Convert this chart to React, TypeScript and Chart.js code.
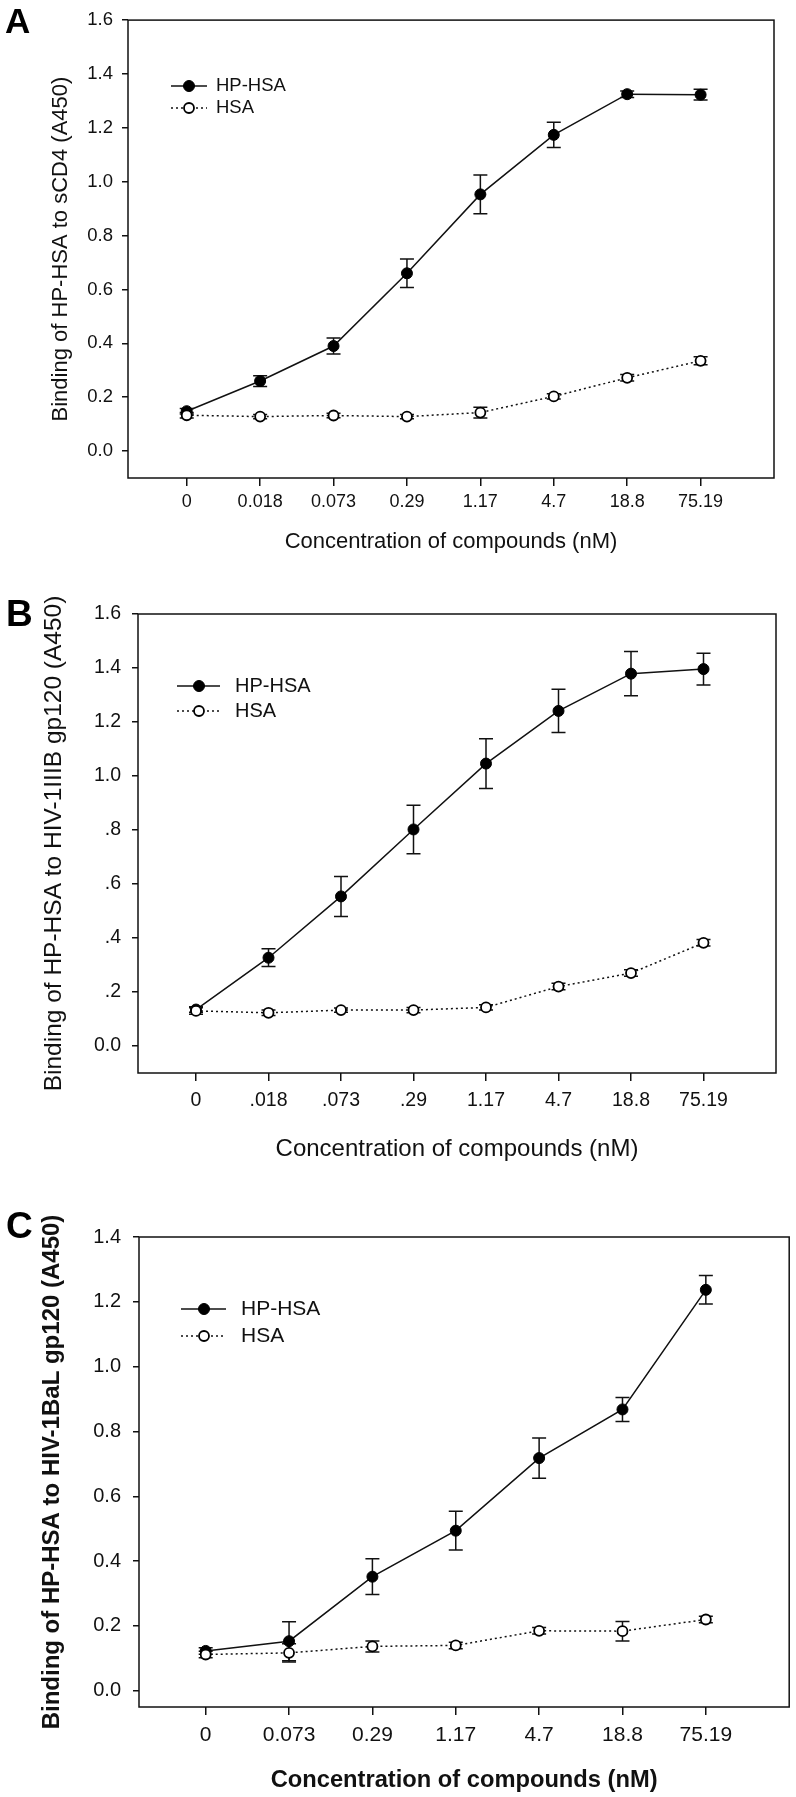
import React, { useEffect, useRef } from 'react';
import { Chart, registerables } from 'chart.js';

Chart.register(...registerables);

// ---------- DATA ----------
const catsA = ['0', '0.018', '0.073', '0.29', '1.17', '4.7', '18.8', '75.19'];
const hpA = [0.148, 0.26, 0.39, 0.66, 0.953, 1.174, 1.325, 1.323];
const hpErrA = [0.01, 0.02, 0.03, 0.053, 0.072, 0.047, 0.012, 0.02];
const hsaA = [0.133, 0.128, 0.132, 0.128, 0.143, 0.203, 0.272, 0.335];
const hsaErrA = [0.01, 0.008, 0.008, 0.008, 0.02, 0.01, 0.012, 0.015];
const yTicksA = [0, 0.2, 0.4, 0.6, 0.8, 1.0, 1.2, 1.4, 1.6];
const yLabelsA = ['0.0', '0.2', '0.4', '0.6', '0.8', '1.0', '1.2', '1.4', '1.6'];

const catsB = ['0', '.018', '.073', '.29', '1.17', '4.7', '18.8', '75.19'];
const hpB = [0.135, 0.327, 0.554, 0.802, 1.046, 1.241, 1.379, 1.396];
const hpErrB = [0.01, 0.033, 0.074, 0.09, 0.092, 0.08, 0.082, 0.059];
const hsaB = [0.13, 0.123, 0.133, 0.133, 0.143, 0.22, 0.27, 0.382];
const hsaErrB = [0.012, 0.01, 0.008, 0.01, 0.01, 0.012, 0.012, 0.012];
const yTicksB = [0, 0.2, 0.4, 0.6, 0.8, 1.0, 1.2, 1.4, 1.6];
const yLabelsB = ['0.0', '.2', '.4', '.6', '.8', '1.0', '1.2', '1.4', '1.6'];

const catsC = ['0', '0.073', '0.29', '1.17', '4.7', '18.8', '75.19'];
const hpC = [0.123, 0.153, 0.352, 0.494, 0.718, 0.868, 1.237];
const hpErrC = [0.01, 0.06, 0.055, 0.06, 0.062, 0.037, 0.044];
const hsaC = [0.112, 0.117, 0.137, 0.14, 0.185, 0.184, 0.22];
const hsaErrC = [0.01, 0.028, 0.017, 0.01, 0.01, 0.03, 0.01];
const yTicksC = [0, 0.2, 0.4, 0.6, 0.8, 1.0, 1.2, 1.4];
const yLabelsC = ['0.0', '0.2', '0.4', '0.6', '0.8', '1.0', '1.2', '1.4'];

const seriesNames = ['HP-HSA', 'HSA'];
const xTitleText = 'Concentration of compounds (nM)';

// ---------- STYLE / LAYOUT ----------
const FONT = "'Liberation Sans', Arial, Helvetica, sans-serif";
const INK = '#111';

type Panel = {
  letter: string;
  top: number;
  height: number;
  area: { left: number; right: number; top: number; bottom: number };
  yMin: number;
  yMax: number;
  xMax: number;
  cats: string[];
  hp: number[];
  hpErr: number[];
  hsa: number[];
  hsaErr: number[];
  yTicks: number[];
  yLabels: string[];
  yTitle: string;
  bold: boolean;
  xTickFont: number;
  yTickFont: number;
  xTitleFont: number;
  yTitleFont: number;
  yTitlePad: number;
  xTitlePad: number;
  xTickPad: number;
  yTickPad: number;
  legend: { x0: number; x1: number; mx: number; tx: number; rows: number[]; font: number };
  letterPos: { x: number; y: number; size: number };
};

const panels: Panel[] = [
  {
    letter: 'A', top: 0, height: 580,
    area: { left: 128, right: 774, top: 11, bottom: 478 },
    yMin: -0.1, yMax: 1.6, xMax: 8,
    cats: catsA, hp: hpA, hpErr: hpErrA, hsa: hsaA, hsaErr: hsaErrA,
    yTicks: yTicksA, yLabels: yLabelsA,
    yTitle: 'Binding of HP-HSA to sCD4 (A450)', bold: false,
    xTickFont: 18, yTickFont: 18.5, xTitleFont: 22, yTitleFont: 22,
    yTitlePad: 48, xTitlePad: 24.8, xTickPad: 5.2, yTickPad: 9,
    legend: { x0: 171, x1: 207, mx: 189, tx: 216, rows: [86, 108], font: 18.5 },
    letterPos: { x: 5, y: 33, size: 35 },
  },
  {
    letter: 'B', top: 580, height: 600,
    area: { left: 138, right: 776, top: 34, bottom: 493 },
    yMin: -0.1, yMax: 1.6, xMax: 8,
    cats: catsB, hp: hpB, hpErr: hpErrB, hsa: hsaB, hsaErr: hsaErrB,
    yTicks: yTicksB, yLabels: yLabelsB,
    yTitle: 'Binding of HP-HSA to HIV-1IIIB gp120 (A450)', bold: false,
    xTickFont: 19.5, yTickFont: 19.5, xTitleFont: 24, yTitleFont: 24.5,
    yTitlePad: 40, xTitlePad: 16.6, xTickPad: 8.3, yTickPad: 11,
    legend: { x0: 177, x1: 220, mx: 199, tx: 235, rows: [106, 131], font: 20 },
    letterPos: { x: 6, y: 46, size: 37 },
  },
  {
    letter: 'C', top: 1180, height: 617,
    area: { left: 139, right: 790, top: 57, bottom: 527 },
    yMin: -0.05, yMax: 1.4, xMax: 7,
    cats: catsC, hp: hpC, hpErr: hpErrC, hsa: hsaC, hsaErr: hsaErrC,
    yTicks: yTicksC, yLabels: yLabelsC,
    yTitle: 'Binding of HP-HSA to HIV-1BaL gp120 (A450)', bold: true,
    xTickFont: 21, yTickFont: 20, xTitleFont: 23.7, yTitleFont: 24,
    yTitlePad: 37.6, xTitlePad: 2.6, xTickPad: 8, yTickPad: 12,
    legend: { x0: 181, x1: 226, mx: 204, tx: 241, rows: [129, 156], font: 21 },
    letterPos: { x: 6, y: 58, size: 37 },
  },
];

const decorPlugin = {
  id: 'panelDecor',
  beforeDatasetsDraw(chart: any) {
    const ctx = chart.ctx;
    const { left, right, top, bottom } = chart.chartArea;
    ctx.save();
    ctx.strokeStyle = INK;
    ctx.lineWidth = 1.5;
    ctx.strokeRect(left, top, right - left, bottom - top);
    ctx.restore();

    const xs = chart.scales.x;
    const ys = chart.scales.y;
    const cap = 7;
    chart.data.datasets.forEach((ds: any) => {
      const errs: number[] = ds.errors || [];
      ctx.save();
      ctx.strokeStyle = INK;
      ctx.lineWidth = 1.5;
      ctx.setLineDash([]);
      ds.data.forEach((p: any, j: number) => {
        const e = errs[j];
        if (!e) return;
        const px = xs.getPixelForValue(p.x);
        const y1 = ys.getPixelForValue(p.y + e);
        const y2 = ys.getPixelForValue(p.y - e);
        ctx.beginPath();
        ctx.moveTo(px, y1);
        ctx.lineTo(px, y2);
        ctx.moveTo(px - cap, y1);
        ctx.lineTo(px + cap, y1);
        ctx.moveTo(px - cap, y2);
        ctx.lineTo(px + cap, y2);
        ctx.stroke();
      });
      ctx.restore();
    });
  },
  afterDraw(chart: any, _args: any, opts: any) {
    const ctx = chart.ctx;
    const lg = opts.legend;
    chart.data.datasets.forEach((ds: any, i: number) => {
      const yRow = lg.rows[i];
      ctx.save();
      ctx.strokeStyle = ds.borderColor;
      ctx.lineWidth = ds.borderWidth;
      ctx.setLineDash(ds.borderDash || []);
      ctx.beginPath();
      ctx.moveTo(lg.x0, yRow);
      ctx.lineTo(lg.x1, yRow);
      ctx.stroke();
      ctx.setLineDash([]);
      ctx.beginPath();
      ctx.arc(lg.mx, yRow, ds.pointRadius, 0, Math.PI * 2);
      ctx.fillStyle = ds.pointBackgroundColor;
      ctx.fill();
      ctx.lineWidth = ds.pointBorderWidth;
      ctx.strokeStyle = ds.pointBorderColor;
      ctx.stroke();
      ctx.fillStyle = INK;
      ctx.font = `${lg.font}px ${FONT}`;
      ctx.textBaseline = 'middle';
      ctx.textAlign = 'left';
      ctx.fillText(ds.label, lg.tx, yRow);
      ctx.restore();
    });
    const lp = opts.letterPos;
    ctx.save();
    ctx.fillStyle = '#000';
    ctx.font = `bold ${lp.size}px ${FONT}`;
    ctx.textBaseline = 'alphabetic';
    ctx.textAlign = 'left';
    ctx.fillText(opts.letter, lp.x, lp.y);
    ctx.restore();
  },
};

function buildConfig(p: Panel): any {
  const weight = p.bold ? 'bold' : 'normal';
  return {
    type: 'line',
    data: {
      datasets: [
        {
          label: seriesNames[0],
          data: p.hp.map((v, i) => ({ x: i, y: v })),
          errors: p.hpErr,
          borderColor: INK,
          borderWidth: 1.5,
          pointRadius: 5.5,
          pointBackgroundColor: '#000',
          pointBorderColor: '#000',
          pointBorderWidth: 1,
          tension: 0,
          order: 1,
        },
        {
          label: seriesNames[1],
          data: p.hsa.map((v, i) => ({ x: i, y: v })),
          errors: p.hsaErr,
          borderColor: INK,
          borderWidth: 1.5,
          borderDash: [2, 3],
          pointRadius: 5,
          pointBackgroundColor: '#fff',
          pointBorderColor: '#000',
          pointBorderWidth: 1.8,
          tension: 0,
          order: 0,
        },
      ],
    },
    options: {
      responsive: false,
      animation: false,
      devicePixelRatio: 1,
      layout: {
        padding: { left: 0, top: p.area.top, right: 796 - p.area.right, bottom: 0 },
      },
      plugins: {
        legend: { display: false },
        tooltip: { enabled: false },
        panelDecor: { legend: p.legend, letterPos: p.letterPos, letter: p.letter },
      },
      scales: {
        x: {
          type: 'linear',
          min: -0.8,
          max: p.xMax,
          bounds: 'data',
          afterBuildTicks: (s: any) => {
            s.ticks = p.cats.map((_, i) => ({ value: i }));
          },
          afterFit: (s: any) => {
            s.height = p.height - p.area.bottom;
          },
          grid: {
            display: true,
            drawOnChartArea: false,
            drawTicks: true,
            tickLength: 8,
            color: INK,
            lineWidth: 1.5,
          },
          border: { display: false },
          ticks: {
            autoSkip: false,
            maxRotation: 0,
            minRotation: 0,
            padding: p.xTickPad,
            color: INK,
            font: { family: FONT, size: p.xTickFont },
            callback: (v: any) => p.cats[Math.round(v)],
          },
          title: {
            display: true,
            text: xTitleText,
            color: INK,
            font: { family: FONT, size: p.xTitleFont, weight },
            padding: { top: 0, bottom: p.xTitlePad },
          },
        },
        y: {
          type: 'linear',
          min: p.yMin,
          max: p.yMax,
          bounds: 'data',
          afterBuildTicks: (s: any) => {
            s.ticks = p.yTicks.map((v) => ({ value: v }));
          },
          afterFit: (s: any) => {
            s.width = p.area.left;
          },
          grid: {
            display: true,
            drawOnChartArea: false,
            drawTicks: true,
            tickLength: 6,
            color: INK,
            lineWidth: 1.5,
          },
          border: { display: false },
          ticks: {
            padding: p.yTickPad,
            color: INK,
            font: { family: FONT, size: p.yTickFont },
            callback: (_v: any, i: number) => p.yLabels[i],
          },
          title: {
            display: true,
            text: p.yTitle,
            color: INK,
            font: { family: FONT, size: p.yTitleFont, weight },
            padding: { top: p.yTitlePad, bottom: 0 },
          },
        },
      },
    },
    plugins: [decorPlugin],
  };
}

function PanelChart({ p }: { p: Panel }) {
  const ref = useRef<HTMLCanvasElement>(null);
  useEffect(() => {
    const chart = new Chart(ref.current as HTMLCanvasElement, buildConfig(p));
    return () => chart.destroy();
  }, []);
  return (
    <canvas
      ref={ref}
      width={796}
      height={p.height}
      style={{ position: 'absolute', left: 0, top: p.top, width: 796, height: p.height, display: 'block' }}
    />
  );
}

export default function App() {
  return (
    <div style={{ position: 'absolute', left: 0, top: 0, width: 796, height: 1797, background: '#fff', overflow: 'hidden' }}>
      {panels.map((p) => (
        <PanelChart key={p.letter} p={p} />
      ))}
    </div>
  );
}
